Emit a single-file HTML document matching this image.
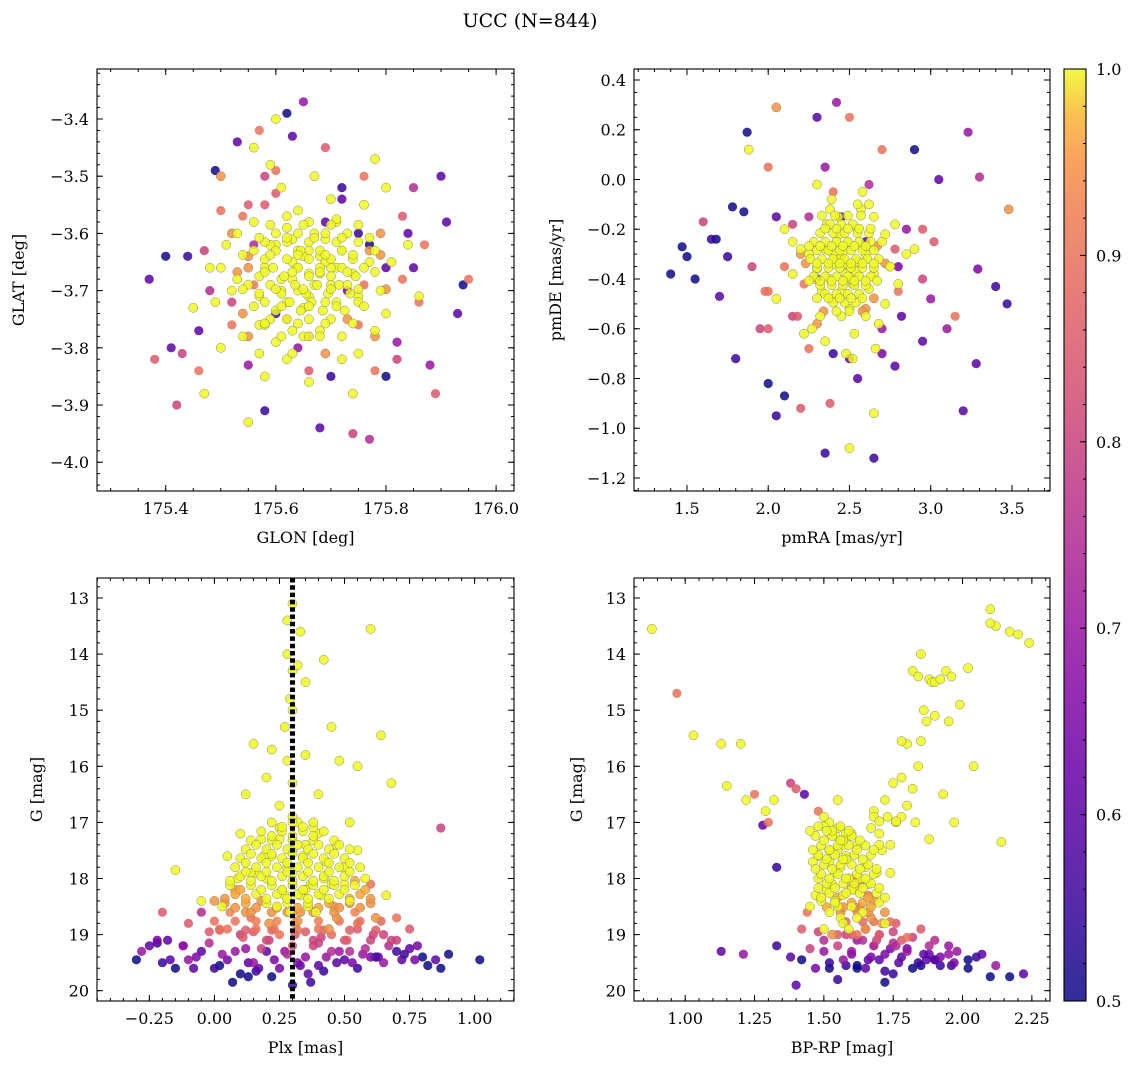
<!DOCTYPE html>
<html><head><meta charset="utf-8">
<style>
html,body{margin:0;padding:0;background:#fff;}
svg{display:block;font-family:"DejaVu Serif","Liberation Serif",serif;}
</style></head>
<body>
<svg id="fig" width="1136" height="1068" viewBox="0 0 1136 1068" xmlns="http://www.w3.org/2000/svg">
<rect width="1136" height="1068" fill="#fff"/>
<text x="530" y="27" font-size="19" text-anchor="middle">UCC (N=844)</text>
<g id="layer"></g>
</svg>
<script>
// ---------- Panel 1: GLON / GLAT ----------
const glon = [175.37,175.38,175.42,175.40,175.41,175.47,175.49,175.55,175.58,175.62,175.60,175.68,175.77,175.74,175.78,175.90,175.89,175.95,175.93,175.94,175.88,175.91,175.87,175.85,175.82,175.53,175.56,175.57,175.69,175.65,175.44,175.43,175.50,175.46,175.72,175.85,175.80,175.60,175.55,175.63,
175.60,175.63,175.66,175.68,175.70,175.64,175.61,175.67,175.72,175.58,175.65,175.69,175.62,175.74,175.57,175.71,175.59,175.66,175.63,175.75,175.55,175.68,175.60,175.73,175.64,175.70,175.53,175.77,175.62,175.56,175.79,175.51,175.49,175.80,175.58,175.66,175.72,175.54,175.76,175.61,175.67,175.48,175.83,175.84,175.45,175.50,175.74,175.59,175.80,175.65,175.71,175.67,175.64,175.62,175.69,175.65,175.61,175.68,175.63,175.70,175.66,175.59,175.73,175.57,175.52,175.86,175.78,175.56,175.64,175.69,
175.60,175.69,175.73,175.56,175.75,175.64,175.80,175.52,175.70,175.58,175.62,175.77,175.66,175.54];
const glat = [-3.68,-3.82,-3.90,-3.64,-3.80,-3.88,-3.49,-3.93,-3.91,-3.39,-3.40,-3.94,-3.96,-3.95,-3.47,-3.50,-3.88,-3.68,-3.74,-3.69,-3.83,-3.58,-3.62,-3.66,-3.82,-3.44,-3.45,-3.42,-3.45,-3.37,-3.64,-3.81,-3.50,-3.84,-3.52,-3.52,-3.85,-3.49,-3.55,-3.43,
-3.62,-3.65,-3.67,-3.64,-3.69,-3.70,-3.68,-3.60,-3.63,-3.66,-3.73,-3.72,-3.59,-3.67,-3.71,-3.58,-3.75,-3.63,-3.61,-3.71,-3.64,-3.77,-3.79,-3.75,-3.56,-3.54,-3.68,-3.65,-3.82,-3.58,-3.60,-3.62,-3.72,-3.74,-3.85,-3.86,-3.82,-3.78,-3.55,-3.52,-3.50,-3.66,-3.68,-3.62,-3.73,-3.80,-3.88,-3.48,-3.52,-3.78,-3.66,-3.69,-3.66,-3.72,-3.61,-3.64,-3.70,-3.67,-3.68,-3.66,-3.71,-3.62,-3.69,-3.76,-3.60,-3.71,-3.77,-3.69,-3.63,-3.65,
-3.74,-3.58,-3.70,-3.62,-3.60,-3.80,-3.66,-3.72,-3.85,-3.55,-3.75,-3.62,-3.78,-3.57];
const prob1 = [0.6,0.85,0.8,0.5,0.6,1,0.5,1,0.55,0.5,1,0.6,0.75,0.8,1,0.6,0.85,0.9,0.6,0.5,0.7,0.6,0.9,0.6,0.8,0.6,1,0.9,0.85,0.7,0.55,0.8,0.95,0.9,0.55,0.75,0.5,0.9,0.85,0.6,
1,1,1,1,1,1,1,1,1,1,1,1,1,1,1,1,1,1,1,1,0.95,1,1,0.95,1,1,1,1,1,1,0.95,1,1,1,1,1,1,1,1,1,1,1,0.9,1,1,1,1,1,1,1,1,1,1,1,1,1,1,1,1,1,1,1,1,1,0.95,1,1,0.9,1,1,
0.55,0.6,0.65,0.75,0.55,0.7,0.6,0.8,0.55,0.85,0.9,0.5,0.8,0.9];
const glonCore = [175.60,175.64,175.69,175.73, 175.58,175.62,175.66,175.71,175.75, 175.56,175.60,175.645,175.68,175.72,175.77, 175.58,175.62,175.66,175.70,175.74, 175.55,175.595,175.64,175.68,175.72,175.76, 175.57,175.615,175.66,175.70,175.745, 175.55,175.59,175.635,175.675,175.715,175.76, 175.57,175.61,175.655,175.695,175.735, 175.58,175.625,175.665,175.71,175.75, 175.60,175.645,175.685,175.725, 175.62,175.66,175.70,
175.53,175.52,175.54,175.79,175.78,175.66,175.71,175.63,175.68,175.58,175.75,175.50,175.81,175.62];
const glatCore = [-3.60,-3.60,-3.60,-3.60, -3.615,-3.615,-3.615,-3.615,-3.615, -3.63,-3.63,-3.63,-3.63,-3.63,-3.63, -3.645,-3.645,-3.645,-3.645,-3.645, -3.66,-3.66,-3.66,-3.66,-3.66,-3.66, -3.675,-3.675,-3.675,-3.675,-3.675, -3.69,-3.69,-3.69,-3.69,-3.69,-3.69, -3.705,-3.705,-3.705,-3.705,-3.705, -3.72,-3.72,-3.72,-3.72,-3.72, -3.735,-3.735,-3.735,-3.735, -3.75,-3.75,-3.75,
-3.60,-3.70,-3.74,-3.70,-3.63,-3.58,-3.575,-3.77,-3.78,-3.76,-3.76,-3.66,-3.65,-3.57];
const prob1Core = [1,1,1,1, 1,1,1,1,1, 1,1,1,1,1,0.95, 1,1,1,1,1, 0.95,1,1,1,1,1, 1,1,1,1,1, 1,1,1,1,1,0.9, 1,1,1,1,1, 1,1,1,1,1, 1,1,1,1, 1,1,1,
1,1,0.95,1,1,1,1,1,1,1,0.9,1,1,1];
const glonFill = [175.57,175.62,175.67,175.72,175.77, 175.54,175.59,175.64,175.69,175.74,175.79, 175.53,175.58,175.63,175.68,175.73,175.78, 175.54,175.60,175.65,175.70,175.75,175.80, 175.56,175.61,175.66,175.71,175.76, 175.58,175.64,175.69,175.74, 175.59,175.65,175.70,175.75, 175.55,175.61,175.66,175.72,175.78, 175.57,175.63,175.69,175.75,
175.50,175.47,175.52,175.83,175.86,175.82,175.60,175.72,175.55,175.78,175.48,175.84,175.66,175.58,175.76,175.46];
const glatFill = [-3.6075,-3.6075,-3.6075,-3.6075,-3.6075, -3.6375,-3.6375,-3.6375,-3.6375,-3.6375,-3.6375, -3.6675,-3.6675,-3.6675,-3.6675,-3.6675,-3.6675, -3.6975,-3.6975,-3.6975,-3.6975,-3.6975,-3.6975, -3.7275,-3.7275,-3.7275,-3.7275,-3.7275, -3.7575,-3.7575,-3.7575,-3.7575, -3.585,-3.585,-3.585,-3.585, -3.78,-3.78,-3.78,-3.78,-3.78, -3.81,-3.81,-3.81,-3.81,
-3.56,-3.63,-3.76,-3.57,-3.72,-3.79,-3.53,-3.54,-3.83,-3.84,-3.70,-3.60,-3.84,-3.50,-3.50,-3.77];
const prob1Fill = [1,1,1,1,1, 1,1,1,1,1,0.95, 0.95,1,1,1,1,1, 1,1,1,1,1,0.95, 1,1,1,1,1, 1,1,1,1, 1,1,1,1, 0.95,1,1,1,0.95, 1,1,0.95,1,
0.9,0.8,0.9,0.85,0.9,0.7,0.85,0.6,0.7,0.9,0.75,0.6,0.85,0.8,0.9,0.6];

// ---------- Panel 2: pmRA / pmDE ----------
const pmra = [1.40,1.47,1.50,1.55,1.60,1.65,1.70,1.75,1.78,1.80,1.85,1.87,1.88,1.95,2.00,2.05,2.05,2.10,2.30,2.35,2.42,2.50,2.50,2.65,2.70,2.90,3.23,3.30,3.48,3.47,3.40,3.29,3.28,3.20,2.78,2.20,2.38,2.65,2.00,1.68,3.10,3.15,2.95,1.90,2.00,3.05,
2.45,2.40,2.50,2.35,2.55,2.48,2.42,2.30,2.60,2.52,2.38,2.44,2.58,2.33,2.47,2.65,2.25,2.70,2.40,2.55,2.36,2.62,2.28,2.50,2.43,2.20,2.75,2.32,2.57,2.46,2.68,2.15,2.80,2.39,2.53,2.10,2.85,2.62,2.27,2.45,2.72,2.35,2.58,2.49,2.41,2.54,2.44,2.37,2.51,2.90,2.05,2.60,2.22,2.78,2.48,2.66,2.30,2.52,
2.30,2.60,2.70,2.15,2.80,2.40,2.95,2.25,2.55,2.00,3.00,2.45];
const pmde = [-0.38,-0.27,-0.31,-0.40,-0.17,-0.24,-0.47,-0.31,-0.11,-0.72,-0.13,0.19,0.12,-0.60,-0.60,-0.95,0.29,-0.87,0.25,-1.10,0.31,0.25,-1.08,-1.12,0.12,0.12,0.19,0.01,-0.12,-0.50,-0.43,-0.36,-0.74,-0.93,-0.75,-0.92,-0.90,-0.94,-0.82,-0.24,-0.60,-0.55,-0.65,-0.35,0.05,0.00,
-0.32,-0.30,-0.35,-0.28,-0.33,-0.38,-0.25,-0.36,-0.30,-0.42,-0.40,-0.22,-0.27,-0.45,-0.34,-0.38,-0.30,-0.25,-0.48,-0.20,-0.18,-0.44,-0.40,-0.52,-0.15,-0.28,-0.35,-0.55,-0.12,-0.29,-0.58,-0.38,-0.42,-0.08,-0.62,-0.20,-0.30,-0.10,-0.60,-0.45,-0.50,-0.65,-0.05,-0.26,-0.34,-0.37,-0.32,-0.28,-0.40,-0.28,-0.48,-0.55,-0.62,-0.18,-0.70,-0.68,-0.02,-0.72,
-0.40,-0.25,-0.60,-0.55,-0.35,-0.70,-0.20,-0.15,-0.80,-0.45,-0.48,-0.15];
const prob2 = [0.5,0.5,0.5,0.5,0.8,0.55,0.6,0.55,0.5,0.55,0.5,0.5,1,0.8,0.85,0.55,0.95,0.5,0.6,0.55,0.7,0.9,1,0.55,0.9,0.5,0.7,0.75,0.95,0.55,0.55,0.65,0.6,0.6,0.6,0.85,0.85,1,0.5,0.5,0.7,0.9,0.6,0.8,0.9,0.6,
1,1,1,1,1,1,1,1,1,1,1,1,1,1,1,1,1,1,1,1,1,1,1,1,1,1,1,1,1,1,1,1,1,1,1,1,1,1,1,1,1,1,1,1,1,1,1,1,1,1,1,1,1,1,1,1,1,1,
0.55,0.6,0.7,0.8,0.65,0.55,0.85,0.75,0.6,0.9,0.7,0.6];
const pmraCore = [2.38,2.45,2.52, 2.32,2.40,2.47,2.55,2.62, 2.28,2.35,2.42,2.49,2.56,2.63, 2.30,2.37,2.44,2.51,2.58,2.65, 2.26,2.33,2.40,2.47,2.54,2.61,2.68, 2.30,2.37,2.44,2.51,2.58,2.65, 2.28,2.35,2.42,2.49,2.56,2.63, 2.32,2.39,2.46,2.53,2.60, 2.35,2.42,2.49,2.56, 2.40,2.47,2.54,
2.20,2.75,2.72,2.22,2.45,2.60,2.38,2.55,2.80,2.15,2.65,2.30];
const pmdeCore = [-0.18,-0.18,-0.18, -0.215,-0.215,-0.215,-0.215,-0.215, -0.25,-0.25,-0.25,-0.25,-0.25,-0.25, -0.285,-0.285,-0.285,-0.285,-0.285,-0.285, -0.32,-0.32,-0.32,-0.32,-0.32,-0.32,-0.32, -0.355,-0.355,-0.355,-0.355,-0.355,-0.355, -0.39,-0.39,-0.39,-0.39,-0.39,-0.39, -0.425,-0.425,-0.425,-0.425,-0.425, -0.46,-0.46,-0.46,-0.46, -0.495,-0.495,-0.495,
-0.30,-0.35,-0.22,-0.42,-0.55,-0.52,-0.12,-0.10,-0.45,-0.25,-0.15,-0.58];
const prob2Core = [1,1,1, 1,1,1,1,1, 1,1,1,1,1,1, 1,1,1,1,1,1, 1,1,1,1,1,1,1, 1,1,1,1,1,1, 1,1,1,1,1,1, 1,1,1,1,1, 1,1,1,1, 1,1,1,
0.95,1,1,0.9,1,0.95,1,1,0.9,1,1,0.95];
const pmraFill = [2.35,2.42,2.49,2.56,2.63, 2.25,2.32,2.39,2.46,2.53,2.60,2.67, 2.23,2.30,2.37,2.44,2.51,2.58,2.65,2.72, 2.25,2.32,2.39,2.46,2.53,2.60,2.67, 2.30,2.37,2.44,2.51,2.58,2.65, 2.33,2.41,2.49,2.57, 2.34,2.42,2.50,2.58,
2.15,2.10,2.78,2.85,2.82,2.18,2.40,2.62,2.05,2.95,2.25,2.70,1.98,3.02,2.50,2.35];
const pmdeFill = [-0.1975,-0.1975,-0.1975,-0.1975,-0.1975, -0.2675,-0.2675,-0.2675,-0.2675,-0.2675,-0.2675,-0.2675, -0.3375,-0.3375,-0.3375,-0.3375,-0.3375,-0.3375,-0.3375,-0.3375, -0.4075,-0.4075,-0.4075,-0.4075,-0.4075,-0.4075,-0.4075, -0.4775,-0.4775,-0.4775,-0.4775,-0.4775,-0.4775, -0.145,-0.145,-0.145,-0.145, -0.53,-0.53,-0.53,-0.53,
-0.18,-0.35,-0.28,-0.20,-0.55,-0.55,-0.05,-0.02,-0.15,-0.40,-0.68,-0.70,-0.45,-0.25,-0.72,0.05];
const prob2Fill = [1,1,1,1,1, 1,1,1,1,1,1,0.95, 0.95,1,1,1,1,1,1,0.95, 1,1,1,1,1,1,1, 1,1,1,1,1,0.95, 1,1,1,1, 0.95,1,1,0.95,
0.8,0.9,0.85,0.7,0.6,0.85,0.9,0.75,0.6,0.8,0.9,0.65,0.9,0.85,0.6,0.7];

// ---------- Panel 3: Plx / G ----------
const plxVals = [0.30,0.28,0.33,0.60,0.28,0.30,0.32,0.35,0.42,0.29,0.30,0.27,0.45,0.64,0.15,0.22,0.28,0.35,0.48,0.55,0.20,0.30,0.40,0.68,0.12,0.87,0.25,0.16,0.52,0.30,
0.10,0.18,0.25,0.32,0.40,0.47,0.05,0.55,0.22,0.35,0.28,0.43,0.14,0.50,0.20,0.37,0.30,0.26,0.45,0.08,0.58,0.33,0.18,0.41,0.24,0.52,0.12,0.36,0.29,0.47,0.03,0.62,0.21,0.39,0.31,0.16,0.44,0.27,0.55,0.34,0.09,-0.15,0.66,0.70,0.25,0.38,0.19,0.42,0.30,0.50,0.00,0.23,0.35,0.60,0.14,0.28,0.46,-0.05,0.40,0.33,
0.05,0.15,0.25,0.35,0.45,0.55,-0.10,0.65,-0.05,0.20,0.30,0.40,0.50,0.10,0.60,0.70,-0.20,0.75,0.02,0.38,
-0.30,-0.25,-0.20,-0.15,-0.10,-0.05,0.00,0.05,0.10,0.15,0.20,0.25,0.30,0.35,0.40,0.45,0.50,0.55,0.60,0.65,0.70,0.75,0.80,0.85,0.90,1.02,-0.28,-0.18,-0.08,0.02,0.12,0.22,0.32,0.42,0.52,0.62,0.72,0.82,-0.22,0.07,0.27,0.47,0.67,0.17,0.37,0.57,0.77,-0.12,0.87,0.13];
const gmag3 = [13.1,13.4,13.6,13.55,14.0,14.3,14.2,14.5,14.1,14.8,15.0,15.3,15.3,15.45,15.6,15.7,15.9,15.8,15.9,16.0,16.2,16.3,16.5,16.3,16.5,17.1,16.7,17.9,17.0,16.9,
17.2,17.3,17.1,17.0,17.2,17.4,17.6,17.5,17.6,17.4,17.8,17.7,17.9,17.8,18.0,18.1,17.9,18.2,18.1,18.2,18.0,18.3,18.4,18.3,18.5,18.4,18.6,18.5,18.6,18.7,18.5,18.7,18.8,18.6,18.8,18.9,18.9,18.3,18.8,17.6,18.0,17.85,18.3,18.7,17.3,17.1,17.6,18.0,17.5,18.1,18.4,18.9,18.2,18.1,18.7,18.6,18.5,18.4,18.9,18.6,
18.9,18.95,19.0,18.95,19.0,18.9,18.8,19.0,18.6,19.1,19.2,19.15,19.1,19.0,19.1,19.1,18.6,18.9,18.9,19.1,
19.45,19.2,19.5,19.6,19.45,19.3,19.6,19.45,19.7,19.5,19.3,19.6,19.9,19.4,19.55,19.3,19.45,19.6,19.4,19.5,19.3,19.25,19.4,19.45,19.35,19.45,19.3,19.1,19.6,19.55,19.25,19.75,19.5,19.65,19.3,19.4,19.45,19.55,19.15,19.85,19.3,19.5,19.2,19.6,19.85,19.35,19.45,19.2,19.6,19.75];
const prob3 = [1,1,1,1,1,1,1,1,1,1,1,1,1,1,1,1,1,1,1,1,1,1,1,1,1,0.8,1,1,1,1,
1,1,1,1,1,1,1,1,1,1,1,1,1,1,1,1,1,1,1,0.95,1,1,0.95,1,1,1,0.95,1,1,0.95,1,0.95,0.95,1,0.95,0.9,0.95,1,0.9,1,1,1,1,0.9,1,1,1,1,1,1,0.95,0.9,1,0.9,0.9,0.95,0.95,1,0.9,0.95,
0.9,0.85,0.9,0.85,0.88,0.85,0.85,0.8,0.75,0.82,0.85,0.8,0.85,0.8,0.8,0.8,0.85,0.85,0.9,0.8,
0.5,0.6,0.55,0.5,0.7,0.6,0.55,0.65,0.5,0.7,0.6,0.65,0.55,0.7,0.6,0.75,0.6,0.55,0.65,0.7,0.55,0.6,0.5,0.6,0.5,0.5,0.7,0.6,0.6,0.5,0.7,0.5,0.65,0.55,0.75,0.5,0.6,0.5,0.55,0.5,0.7,0.6,0.75,0.6,0.55,0.7,0.65,0.6,0.5,0.5];
const plxCore = [0.22,0.30,0.38, 0.18,0.26,0.34,0.42, 0.14,0.22,0.30,0.38,0.46, 0.12,0.20,0.28,0.36,0.44,0.52, 0.10,0.18,0.26,0.34,0.42,0.50, 0.08,0.16,0.24,0.32,0.40,0.48,0.56, 0.10,0.18,0.26,0.34,0.42,0.50, 0.06,0.14,0.22,0.30,0.38,0.46,0.54, 0.08,0.16,0.24,0.32,0.40,0.48,0.56, 0.04,0.12,0.20,0.28,0.36,0.44,0.52,0.60, 0.06,0.14,0.22,0.30,0.38,0.46,0.54, 0.00,0.08,0.16,0.24,0.32,0.40,0.48,0.56,0.64, 0.02,0.12,0.22,0.32,0.42,0.52,0.62];
const gmagCore3 = [17.0,17.0,17.0, 17.16,17.16,17.16,17.16, 17.32,17.32,17.32,17.32,17.32, 17.48,17.48,17.48,17.48,17.48,17.48, 17.64,17.64,17.64,17.64,17.64,17.64, 17.8,17.8,17.8,17.8,17.8,17.8,17.8, 17.96,17.96,17.96,17.96,17.96,17.96, 18.12,18.12,18.12,18.12,18.12,18.12,18.12, 18.28,18.28,18.28,18.28,18.28,18.28,18.28, 18.44,18.44,18.44,18.44,18.44,18.44,18.44,18.44, 18.6,18.6,18.6,18.6,18.6,18.6,18.6, 18.76,18.76,18.76,18.76,18.76,18.76,18.76,18.76,18.76, 18.92,18.92,18.92,18.92,18.92,18.92,18.92];
const prob3Core = [1,1,1, 1,1,1,1, 1,1,1,1,1, 1,1,1,1,1,1, 1,1,1,1,1,1, 1,1,1,1,1,1,1, 1,1,1,1,1,1, 1,1,1,1,1,1,1, 0.97,1,1,1,1,1,0.97, 0.95,0.97,1,1,1,0.97,0.95,0.95, 0.93,0.95,0.95,0.97,0.95,0.95,0.93, 0.9,0.9,0.92,0.93,0.95,0.92,0.9,0.9,0.88, 0.85,0.86,0.88,0.9,0.87,0.86,0.85];
const plxFill = [0.26,0.34, 0.22,0.30,0.38, 0.16,0.24,0.32,0.40,0.48, 0.14,0.22,0.30,0.38,0.46, 0.12,0.20,0.28,0.36,0.44,0.52, 0.12,0.20,0.28,0.36,0.44,0.52, 0.06,0.14,0.22,0.30,0.38,0.46,0.54, 0.10,0.18,0.26,0.34,0.42,0.50,0.58, 0.04,0.12,0.20,0.28,0.36,0.44,0.52,0.60, 0.08,0.16,0.24,0.32,0.40,0.48,0.56,
-0.22,-0.12,-0.02,0.08,0.18,0.28,0.38,0.48,0.58,0.68,0.78,-0.17,-0.07,0.03,0.13,0.23,0.33,0.43,0.53,0.63,0.73,0.11,0.21,0.31,0.41,0.51,0.61,-0.02,0.16,0.36];
const gmagFill3 = [17.08,17.08, 17.24,17.24,17.24, 17.40,17.40,17.40,17.40,17.40, 17.56,17.56,17.56,17.56,17.56, 17.72,17.72,17.72,17.72,17.72,17.72, 17.88,17.88,17.88,17.88,17.88,17.88, 18.04,18.04,18.04,18.04,18.04,18.04,18.04, 18.20,18.20,18.20,18.20,18.20,18.20,18.20, 18.36,18.36,18.36,18.36,18.36,18.36,18.36,18.36, 18.52,18.52,18.52,18.52,18.52,18.52,18.52,
19.1,19.2,19.15,19.3,19.25,19.35,19.2,19.3,19.25,19.1,19.2,19.45,19.4,19.35,19.5,19.45,19.55,19.4,19.5,19.4,19.35,19.05,19.1,19.0,19.05,19.1,19.0,18.95,19.65,19.7];
const prob3Fill = [1,1, 1,1,1, 1,1,1,1,1, 1,1,1,1,1, 1,1,1,1,1,1, 1,1,1,1,1,1, 1,1,1,1,1,1,0.97, 0.97,1,1,1,1,1,0.97, 0.95,0.97,1,1,1,1,0.97,0.95, 0.95,0.95,0.97,0.97,0.97,0.95,0.95,
0.65,0.7,0.75,0.7,0.8,0.75,0.8,0.7,0.75,0.8,0.65,0.6,0.65,0.7,0.6,0.65,0.6,0.7,0.65,0.6,0.55,0.85,0.8,0.85,0.8,0.85,0.8,0.85,0.55,0.6];

// ---------- Panel 4: BP-RP / G ----------
const bprp = [0.88,0.97,1.03,1.13,1.20,1.15,1.22,1.25,1.29,1.32,1.30,1.40,1.43,1.48,1.52,1.55,1.33,1.38,1.28,
1.82,1.84,1.85,1.88,1.89,1.90,1.92,1.94,1.96,1.99,2.02,1.86,1.90,1.87,1.85,1.95,2.04,1.80,1.78,2.10,2.12,2.17,2.20,2.24,2.10,1.75,1.72,1.73,1.78,1.82,1.84,1.76,1.70,1.68,1.88,1.93,1.71,1.74,1.80,1.83,1.67,2.14,1.97,
1.50,1.55,1.58,1.52,1.60,1.48,1.56,1.62,1.54,1.46,1.59,1.53,1.65,1.51,1.57,1.63,1.49,1.55,1.61,1.47,1.58,1.66,1.52,1.60,1.56,1.54,1.64,1.50,1.68,1.45,1.57,1.62,1.53,1.59,1.55,1.70,1.61,1.66,1.48,1.58,1.63,1.72,1.57,1.52,1.69,1.65,1.60,1.74,1.55,1.44,1.71,1.67,1.76,1.62,
1.42,1.48,1.55,1.60,1.65,1.70,1.75,1.80,1.85,1.90,1.95,1.50,1.58,1.68,1.78,1.88,1.98,1.45,1.62,1.72,
1.13,1.21,1.33,1.38,1.42,1.47,1.52,1.57,1.62,1.67,1.72,1.77,1.82,1.87,1.92,1.97,2.02,2.07,2.12,2.17,2.22,1.55,1.65,1.75,1.85,1.95,2.05,1.60,1.70,1.80,1.90,1.50,2.10,1.40,1.68,1.78];
const gmag4 = [13.55,14.7,15.45,15.6,15.6,16.35,16.6,16.5,16.8,16.6,17.0,16.4,16.5,16.8,17.0,16.6,17.8,16.3,17.05,
14.3,14.4,14.0,14.45,14.5,14.5,14.45,14.3,14.4,14.9,14.25,15.0,15.1,15.2,15.55,15.2,16.0,15.6,15.55,13.2,13.5,13.6,13.65,13.8,13.45,16.3,16.6,16.9,16.2,16.4,16.0,17.0,17.2,16.8,17.3,16.5,17.5,17.4,16.7,17.0,17.1,17.35,17.0,
16.9,17.1,17.3,17.5,17.2,17.6,17.8,17.4,17.9,17.7,18.0,18.1,17.8,18.2,18.3,18.0,18.4,18.5,18.2,18.3,17.6,18.1,18.6,18.5,18.7,18.4,18.6,18.9,18.4,18.5,18.8,18.7,19.0,18.9,17.5,17.4,18.0,18.3,18.0,17.2,18.1,18.8,17.4,17.7,17.9,18.9,18.2,17.9,18.5,18.6,18.8,18.7,
18.8,19.0,18.9,18.95,19.0,19.0,18.9,19.0,18.95,19.05,18.9,19.1,19.2,19.1,19.0,19.2,19.1,19.2,19.3,19.25,
19.6,19.85,19.3,19.35,19.2,19.4,19.45,19.6,19.5,19.45,19.55,19.4,19.65,19.5,19.6,19.45,19.55,19.5,19.45,19.35,19.55,19.75,19.7,19.8,19.6,19.7,19.55,19.35,19.4,19.35,19.45,19.25,19.45,19.3,19.75,19.9];
const prob4 = [1,0.9,1,1,1,1,1,0.9,1,1,0.9,0.85,0.6,0.9,1,1,0.55,0.8,0.6,
1,1,1,1,1,1,1,1,1,1,1,1,1,1,1,1,1,1,1,1,1,1,1,1,1,1,1,1,1,1,1,1,1,1,1,1,1,1,1,1,1,1,1,
1,1,1,1,1,1,1,1,1,1,1,1,1,1,1,1,1,1,1,1,1,1,1,1,1,1,1,1,0.95,1,1,1,0.95,1,1,1,0.9,0.9,1,1,0.9,1,1,1,1,0.95,1,1,0.95,0.9,0.95,0.95,
0.85,0.9,0.85,0.8,0.85,0.85,0.8,0.85,0.8,0.9,0.85,0.75,0.7,0.75,0.8,0.75,0.85,0.75,0.7,0.8,
0.5,0.5,0.6,0.7,0.55,0.6,0.5,0.65,0.55,0.7,0.5,0.65,0.55,0.6,0.5,0.6,0.55,0.65,0.5,0.6,0.7,0.5,0.6,0.55,0.6,0.55,0.5,0.7,0.55,0.65,0.6,0.65,0.5,0.7,0.5,0.6];
const bprpCore = [1.50,1.56, 1.48,1.54,1.60, 1.47,1.53,1.59,1.65, 1.49,1.55,1.61,1.67, 1.48,1.54,1.60,1.66, 1.50,1.56,1.62,1.68, 1.49,1.55,1.61,1.67, 1.51,1.57,1.63,1.69, 1.52,1.58,1.64,1.70, 1.54,1.60,1.66,1.72, 1.56,1.62,1.68,1.74, 1.58,1.64,1.70,1.76];
const gmagCore4 = [16.9,16.9, 17.07,17.07,17.07, 17.24,17.24,17.24,17.24, 17.41,17.41,17.41,17.41, 17.58,17.58,17.58,17.58, 17.75,17.75,17.75,17.75, 17.92,17.92,17.92,17.92, 18.09,18.09,18.09,18.09, 18.26,18.26,18.26,18.26, 18.43,18.43,18.43,18.43, 18.6,18.6,18.6,18.6, 18.77,18.77,18.77,18.77];
const prob4Core = [1,1, 1,1,1, 1,1,1,1, 1,1,1,1, 1,1,1,1, 1,1,1,1, 1,1,1,1, 1,1,1,1, 1,1,1,1, 0.97,1,1,0.97, 0.95,0.95,0.95,0.93, 0.9,0.9,0.88,0.88];
const bprpFill = [1.53,1.59, 1.45,1.51,1.57,1.63, 1.50,1.56,1.62,1.68, 1.46,1.52,1.58,1.64, 1.51,1.57,1.63,1.69, 1.47,1.53,1.59,1.65, 1.52,1.58,1.64,1.70, 1.48,1.54,1.60,1.66,1.72, 1.49,1.55,1.61,1.67, 1.51,1.57,1.63,1.69,1.75,
1.55,1.62,1.68,1.74,1.80,1.86,1.92,1.60,1.66,1.72,1.78,1.84,1.90,1.96,2.02,1.58,1.70,1.82,1.64,1.76,1.88,1.52,1.98,2.08];
const gmagFill4 = [16.98,16.98, 17.15,17.15,17.15,17.15, 17.32,17.32,17.32,17.32, 17.49,17.49,17.49,17.49, 17.66,17.66,17.66,17.66, 17.83,17.83,17.83,17.83, 18.0,18.0,18.0,18.0, 18.17,18.17,18.17,18.17,18.17, 18.34,18.34,18.34,18.34, 18.51,18.51,18.51,18.51,18.51,
19.1,19.15,19.2,19.1,19.2,19.25,19.3,19.35,19.4,19.3,19.45,19.35,19.4,19.5,19.45,19.55,19.6,19.55,19.0,19.05,19.1,19.2,19.35,19.6];
const prob4Fill = [1,1, 1,1,1,1, 1,1,1,1, 1,1,1,1, 1,1,1,1, 1,1,1,1, 1,1,1,1, 1,1,1,1,0.97, 0.97,1,1,0.97, 0.95,0.97,0.97,0.95,0.93,
0.8,0.75,0.8,0.7,0.75,0.65,0.7,0.6,0.65,0.7,0.6,0.65,0.6,0.55,0.6,0.55,0.5,0.55,0.85,0.8,0.75,0.75,0.6,0.5];

// ---------- Colorbar ----------
const cbTicks = [0.5,0.6,0.7,0.8,0.9,1.0];

const NS = "http://www.w3.org/2000/svg";
const layer = document.getElementById('layer');
function mk(tag, attrs, parent){const e=document.createElementNS(NS,tag);for(const k in attrs)e.setAttribute(k,attrs[k]);(parent||layer).appendChild(e);return e;}

const stops=[[0,[13,8,135]],[0.125,[65,4,157]],[0.25,[106,0,168]],[0.375,[143,13,164]],[0.5,[177,42,144]],[0.625,[204,71,120]],[0.75,[225,100,98]],[0.875,[242,132,75]],[0.94,[252,166,54]],[1,[240,249,33]]];
function plasma(t){t=Math.max(0,Math.min(1,t));for(let i=1;i<stops.length;i++){if(t<=stops[i][0]){const a=stops[i-1],b=stops[i];const f=(t-a[0])/(b[0]-a[0]);const c=a[1].map((v,j)=>Math.round(v+(b[1][j]-v)*f));return `rgb(${c[0]},${c[1]},${c[2]})`;}}return 'rgb(240,249,33)';}
function pcol(p){return plasma((p-0.5)/0.5);}

function fmt(v,d){let s=v.toFixed(d);if(s.startsWith('-'))s='\u2212'+s.slice(1);return s;}

function panel(cfg){
  const g=mk('g',{});
  
  
  const {L,R,T,B,x0,x1,y0,y1,inv}=cfg;
  const sx=v=>L+(v-x0)/(x1-x0)*(R-L);
  const sy=inv? v=>T+(v-y0)/(y1-y0)*(B-T) : v=>B-(v-y0)/(y1-y0)*(B-T);
  const n=Math.min(cfg.xs.length,cfg.ys.length,cfg.ps.length);
  const idx=[];for(let i=0;i<n;i++)idx.push(i);
  idx.sort((a,b)=>cfg.ps[a]-cfg.ps[b]);
  const pg=mk('g',{},g);
  
  
  idx.forEach(i=>{
    const c=mk('circle',{cx:sx(cfg.xs[i]).toFixed(1),cy:sy(cfg.ys[i]).toFixed(1),r:4.6,fill:pcol(cfg.ps[i]),'fill-opacity':0.85,stroke:cfg.ps[i]>0.93?'#8a8a5a':'none','stroke-width':0.5},pg);
    
    
  });
  if(cfg.vline!==undefined){
    const l=mk('line',{x1:sx(cfg.vline),x2:sx(cfg.vline),y1:T,y2:B,stroke:'#000','stroke-width':5,'stroke-dasharray':'4.5 2.8'},g);
    
    
  }
  const fr=mk('rect',{x:L,y:T,width:R-L,height:B-T,fill:'none',stroke:'#000','stroke-width':1.1},g);
  
  
  const eps=1e-9;
  for(let v=Math.ceil(x0/cfg.xmin-eps)*cfg.xmin; v<=x1+eps; v+=cfg.xmin){const X=sx(v);mk('line',{x1:X,x2:X,y1:B,y2:B-3,stroke:'#000'},g);mk('line',{x1:X,x2:X,y1:T,y2:T+3,stroke:'#000'},g);}
  for(let v=Math.ceil(y0/cfg.ymin-eps)*cfg.ymin; v<=y1+eps; v+=cfg.ymin){const Y=sy(v);mk('line',{x1:L,x2:L+3,y1:Y,y2:Y,stroke:'#000'},g);mk('line',{x1:R,x2:R-3,y1:Y,y2:Y,stroke:'#000'},g);}
  cfg.xt.forEach(v=>{const X=sx(v);mk('line',{x1:X,x2:X,y1:B,y2:B-6,stroke:'#000'},g);mk('line',{x1:X,x2:X,y1:T,y2:T+6,stroke:'#000'},g);
    const t=mk('text',{x:X,y:B+23,'font-size':16,'text-anchor':'middle'},g);t.textContent=fmt(v,cfg.xd);
    
    });
  cfg.yt.forEach(v=>{const Y=sy(v);mk('line',{x1:L,x2:L+6,y1:Y,y2:Y,stroke:'#000'},g);mk('line',{x1:R,x2:R-6,y1:Y,y2:Y,stroke:'#000'},g);
    const t=mk('text',{x:L-8,y:Y+6,'font-size':16,'text-anchor':'end'},g);t.textContent=fmt(v,cfg.yd);
    
    });
  const xl=mk('text',{x:(L+R)/2,y:B+52,'font-size':16,'text-anchor':'middle'},g);xl.textContent=cfg.xlab;
  
  
  const yl=mk('text',{x:cfg.ylx,y:(T+B)/2,'font-size':16,'text-anchor':'middle',transform:`rotate(-90 ${cfg.ylx} ${(T+B)/2})`},g);yl.textContent=cfg.ylab;
  
  
}

panel({name:'panel-glon-glat',L:97,R:514,T:69,B:491,x0:175.2752,x1:176.0325,y0:-4.0503,y1:-3.3126,xs:glon.concat(glonCore,glonFill),ys:glat.concat(glatCore,glatFill),ps:prob1.concat(prob1Core,prob1Fill),
  xt:[175.4,175.6,175.8,176.0],xd:1,yt:[-4.0,-3.9,-3.8,-3.7,-3.6,-3.5,-3.4],yd:1,xmin:0.05,ymin:0.02,xlab:'GLON [deg]',ylab:'GLAT [deg]',ylx:24});
panel({name:'panel-pmra-pmde',L:634,R:1050,T:69,B:491,x0:1.174,x1:3.734,y0:-1.2523,y1:0.4442,xs:pmra.concat(pmraCore,pmraFill),ys:pmde.concat(pmdeCore,pmdeFill),ps:prob2.concat(prob2Core,prob2Fill),
  xt:[1.5,2.0,2.5,3.0,3.5],xd:1,yt:[-1.2,-1.0,-0.8,-0.6,-0.4,-0.2,0.0,0.2,0.4],yd:1,xmin:0.1,ymin:0.05,xlab:'pmRA [mas/yr]',ylab:'pmDE [mas/yr]',ylx:561});
panel({name:'panel-plx-g',L:97,R:514,T:578,B:1001,x0:-0.4513,x1:1.1513,y0:12.6435,y1:20.1836,inv:true,xs:plxVals.concat(plxCore,plxFill),ys:gmag3.concat(gmagCore3,gmagFill3),ps:prob3.concat(prob3Core,prob3Fill),vline:0.30,
  xt:[-0.25,0,0.25,0.5,0.75,1.0],xd:2,yt:[13,14,15,16,17,18,19,20],yd:0,xmin:0.05,ymin:0.2,xlab:'Plx [mas]',ylab:'G [mag]',ylx:42});
panel({name:'panel-bprp-g',L:634,R:1050,T:578,B:1001,x0:0.8154,x1:2.3154,y0:12.6435,y1:20.1836,inv:true,xs:bprp.concat(bprpCore,bprpFill),ys:gmag4.concat(gmagCore4,gmagFill4),ps:prob4.concat(prob4Core,prob4Fill),
  xt:[1.0,1.25,1.5,1.75,2.0,2.25],xd:2,yt:[13,14,15,16,17,18,19,20],yd:0,xmin:0.05,ymin:0.2,xlab:'BP-RP [mag]',ylab:'G [mag]',ylx:582});

(function(){
  const L=1064,R=1086,T=69,B=1001;
  const cb=mk('g',{});
  
  
  const defs=mk('defs',{},cb);
  const lg=mk('linearGradient',{id:'cbg',x1:0,y1:1,x2:0,y2:0},defs);
  for(let i=0;i<=20;i++){mk('stop',{offset:i/20,'stop-color':plasma(i/20),'stop-opacity':0.85},lg);}
  mk('rect',{x:L,y:T,width:R-L,height:B-T,fill:'url(#cbg)',stroke:'#000','stroke-width':1.1},cb);
  const sy=v=>B-(v-0.5)/0.5*(B-T);
  for(let v=0.5;v<=1.0001;v+=0.02){mk('line',{x1:R,x2:R-3,y1:sy(v),y2:sy(v),stroke:'#000'},cb);}
  cbTicks.forEach(v=>{const Y=sy(v);mk('line',{x1:R,x2:R-6,y1:Y,y2:Y,stroke:'#000'},cb);
    const t=mk('text',{x:R+10,y:Y+6,'font-size':16},cb);t.textContent=v.toFixed(1);
    
    });
})();
</script>
</body></html>
